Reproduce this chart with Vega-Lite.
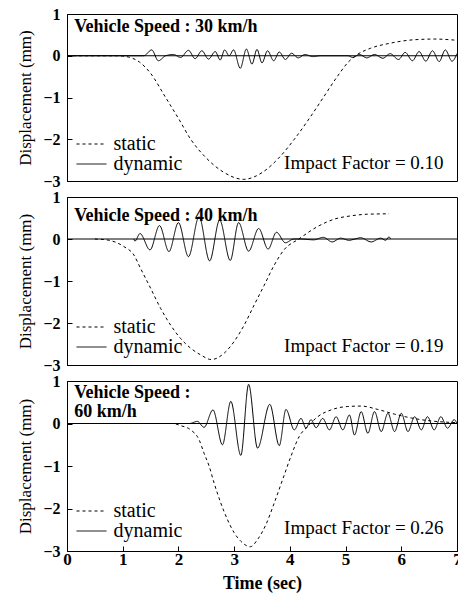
{
  "$schema": "https://vega.github.io/schema/vega-lite/v6.json",
  "padding": {"left": 16, "top": 5, "right": 0, "bottom": 0},
  "bounds": "flush",
  "spacing": 16,
  "background": "white",
  "config": {
    "font": "Liberation Serif, Times New Roman, serif",
    "view": {"stroke": "black", "strokeWidth": 1},
    "axis": {"labelFont": "Liberation Serif, Times New Roman, serif", "labelFontWeight": "bold", "labelFontSize": 16, "labelColor": "black", "domainColor": "black", "tickColor": "black", "grid": false, "titleFont": "Liberation Serif, Times New Roman, serif", "titleColor": "black"},
    "legend": {"orient": "none", "legendX": 14.5, "legendY": 120, "title": null, "symbolType": "M-2,0H2", "symbolSize": 225, "symbolStrokeColor": "black", "symbolStrokeWidth": 1, "labelFont": "Liberation Serif, Times New Roman, serif", "labelFontSize": 20, "labelColor": "black", "labelOffset": 12, "rowPadding": 0, "padding": 0}
  },
  "datasets": {
    "curves": [
      {"speed": 30, "series": "static", "time": 0, "disp": 0},
      {"speed": 30, "series": "static", "time": 0.9, "disp": 0},
      {"speed": 30, "series": "static", "time": 1.1, "disp": -0.03},
      {"speed": 30, "series": "static", "time": 1.3, "disp": -0.15},
      {"speed": 30, "series": "static", "time": 1.5, "disp": -0.42},
      {"speed": 30, "series": "static", "time": 1.77, "disp": -1.0},
      {"speed": 30, "series": "static", "time": 2.0, "disp": -1.5},
      {"speed": 30, "series": "static", "time": 2.22, "disp": -2.0},
      {"speed": 30, "series": "static", "time": 2.5, "disp": -2.45},
      {"speed": 30, "series": "static", "time": 2.8, "disp": -2.78},
      {"speed": 30, "series": "static", "time": 3.17, "disp": -2.96},
      {"speed": 30, "series": "static", "time": 3.5, "disp": -2.8},
      {"speed": 30, "series": "static", "time": 3.8, "disp": -2.45},
      {"speed": 30, "series": "static", "time": 4.08, "disp": -2.0},
      {"speed": 30, "series": "static", "time": 4.35, "disp": -1.5},
      {"speed": 30, "series": "static", "time": 4.6, "disp": -1.0},
      {"speed": 30, "series": "static", "time": 4.85, "disp": -0.5},
      {"speed": 30, "series": "static", "time": 5.05, "disp": -0.15},
      {"speed": 30, "series": "static", "time": 5.2, "disp": 0.02},
      {"speed": 30, "series": "static", "time": 5.45, "disp": 0.18},
      {"speed": 30, "series": "static", "time": 5.8, "disp": 0.3},
      {"speed": 30, "series": "static", "time": 6.2, "disp": 0.38},
      {"speed": 30, "series": "static", "time": 6.6, "disp": 0.4},
      {"speed": 30, "series": "static", "time": 7.0, "disp": 0.37},
      {"speed": 30, "series": "dynamic", "time": 0, "disp": 0},
      {"speed": 30, "series": "dynamic", "time": 1.38, "disp": 0},
      {"speed": 30, "series": "dynamic", "time": 1.52, "disp": 0.14},
      {"speed": 30, "series": "dynamic", "time": 1.64, "disp": -0.12},
      {"speed": 30, "series": "dynamic", "time": 1.77, "disp": 0.0},
      {"speed": 30, "series": "dynamic", "time": 1.91, "disp": 0.03},
      {"speed": 30, "series": "dynamic", "time": 2.04, "disp": -0.04},
      {"speed": 30, "series": "dynamic", "time": 2.18, "disp": 0.13},
      {"speed": 30, "series": "dynamic", "time": 2.3, "disp": -0.07},
      {"speed": 30, "series": "dynamic", "time": 2.42, "disp": 0.12},
      {"speed": 30, "series": "dynamic", "time": 2.54, "disp": -0.08},
      {"speed": 30, "series": "dynamic", "time": 2.66, "disp": 0.1},
      {"speed": 30, "series": "dynamic", "time": 2.75, "disp": -0.1},
      {"speed": 30, "series": "dynamic", "time": 2.83, "disp": 0.14},
      {"speed": 30, "series": "dynamic", "time": 2.91, "disp": 0.0},
      {"speed": 30, "series": "dynamic", "time": 2.99, "disp": 0.14},
      {"speed": 30, "series": "dynamic", "time": 3.11, "disp": -0.3},
      {"speed": 30, "series": "dynamic", "time": 3.22, "disp": 0.16},
      {"speed": 30, "series": "dynamic", "time": 3.32, "disp": -0.2},
      {"speed": 30, "series": "dynamic", "time": 3.41, "disp": 0.15},
      {"speed": 30, "series": "dynamic", "time": 3.5, "disp": -0.17},
      {"speed": 30, "series": "dynamic", "time": 3.6, "disp": 0.12},
      {"speed": 30, "series": "dynamic", "time": 3.71, "disp": -0.12},
      {"speed": 30, "series": "dynamic", "time": 3.81, "disp": 0.09},
      {"speed": 30, "series": "dynamic", "time": 3.92, "disp": -0.09},
      {"speed": 30, "series": "dynamic", "time": 4.03, "disp": 0.06},
      {"speed": 30, "series": "dynamic", "time": 4.15, "disp": -0.05},
      {"speed": 30, "series": "dynamic", "time": 4.27, "disp": 0.03},
      {"speed": 30, "series": "dynamic", "time": 4.41, "disp": -0.02},
      {"speed": 30, "series": "dynamic", "time": 4.56, "disp": 0},
      {"speed": 30, "series": "dynamic", "time": 5.04, "disp": 0},
      {"speed": 30, "series": "dynamic", "time": 5.13, "disp": -0.04},
      {"speed": 30, "series": "dynamic", "time": 5.25, "disp": 0.03},
      {"speed": 30, "series": "dynamic", "time": 5.38, "disp": -0.05},
      {"speed": 30, "series": "dynamic", "time": 5.52, "disp": 0.03},
      {"speed": 30, "series": "dynamic", "time": 5.67, "disp": -0.06},
      {"speed": 30, "series": "dynamic", "time": 5.8, "disp": 0.05},
      {"speed": 30, "series": "dynamic", "time": 5.95, "disp": -0.09},
      {"speed": 30, "series": "dynamic", "time": 6.07, "disp": 0.08},
      {"speed": 30, "series": "dynamic", "time": 6.2, "disp": -0.12},
      {"speed": 30, "series": "dynamic", "time": 6.32, "disp": 0.1},
      {"speed": 30, "series": "dynamic", "time": 6.44, "disp": -0.13},
      {"speed": 30, "series": "dynamic", "time": 6.56, "disp": 0.12},
      {"speed": 30, "series": "dynamic", "time": 6.68, "disp": -0.14},
      {"speed": 30, "series": "dynamic", "time": 6.79, "disp": 0.14},
      {"speed": 30, "series": "dynamic", "time": 6.91, "disp": -0.13},
      {"speed": 30, "series": "dynamic", "time": 7.0, "disp": 0.05},
      {"speed": 40, "series": "static", "time": 0.5, "disp": 0},
      {"speed": 40, "series": "static", "time": 0.75, "disp": -0.03},
      {"speed": 40, "series": "static", "time": 1.02, "disp": -0.18},
      {"speed": 40, "series": "static", "time": 1.2, "disp": -0.38},
      {"speed": 40, "series": "static", "time": 1.32, "disp": -0.7},
      {"speed": 40, "series": "static", "time": 1.5, "disp": -1.17},
      {"speed": 40, "series": "static", "time": 1.68, "disp": -1.65},
      {"speed": 40, "series": "static", "time": 1.86, "disp": -2.05},
      {"speed": 40, "series": "static", "time": 2.04, "disp": -2.37},
      {"speed": 40, "series": "static", "time": 2.22, "disp": -2.6},
      {"speed": 40, "series": "static", "time": 2.4, "disp": -2.76},
      {"speed": 40, "series": "static", "time": 2.59, "disp": -2.87},
      {"speed": 40, "series": "static", "time": 2.82, "disp": -2.72},
      {"speed": 40, "series": "static", "time": 3.0, "disp": -2.44},
      {"speed": 40, "series": "static", "time": 3.18, "disp": -2.05},
      {"speed": 40, "series": "static", "time": 3.36, "disp": -1.57},
      {"speed": 40, "series": "static", "time": 3.54, "disp": -1.1},
      {"speed": 40, "series": "static", "time": 3.72, "disp": -0.62},
      {"speed": 40, "series": "static", "time": 3.9, "disp": -0.25},
      {"speed": 40, "series": "static", "time": 4.16, "disp": 0.0},
      {"speed": 40, "series": "static", "time": 4.49, "disp": 0.29},
      {"speed": 40, "series": "static", "time": 4.79, "disp": 0.47},
      {"speed": 40, "series": "static", "time": 5.09, "disp": 0.55},
      {"speed": 40, "series": "static", "time": 5.39, "disp": 0.59},
      {"speed": 40, "series": "static", "time": 5.78, "disp": 0.6},
      {"speed": 40, "series": "dynamic", "time": 1.2, "disp": 0},
      {"speed": 40, "series": "dynamic", "time": 1.22, "disp": -0.05},
      {"speed": 40, "series": "dynamic", "time": 1.31, "disp": 0.13},
      {"speed": 40, "series": "dynamic", "time": 1.49, "disp": -0.26},
      {"speed": 40, "series": "dynamic", "time": 1.66, "disp": 0.32},
      {"speed": 40, "series": "dynamic", "time": 1.83, "disp": -0.3},
      {"speed": 40, "series": "dynamic", "time": 2.0, "disp": 0.39},
      {"speed": 40, "series": "dynamic", "time": 2.18, "disp": -0.42},
      {"speed": 40, "series": "dynamic", "time": 2.37, "disp": 0.53},
      {"speed": 40, "series": "dynamic", "time": 2.56, "disp": -0.52},
      {"speed": 40, "series": "dynamic", "time": 2.74, "disp": 0.45},
      {"speed": 40, "series": "dynamic", "time": 2.93, "disp": -0.51},
      {"speed": 40, "series": "dynamic", "time": 3.08, "disp": 0.39},
      {"speed": 40, "series": "dynamic", "time": 3.26, "disp": -0.29},
      {"speed": 40, "series": "dynamic", "time": 3.44, "disp": 0.25},
      {"speed": 40, "series": "dynamic", "time": 3.61, "disp": -0.24},
      {"speed": 40, "series": "dynamic", "time": 3.76, "disp": 0.16},
      {"speed": 40, "series": "dynamic", "time": 3.92, "disp": -0.09},
      {"speed": 40, "series": "dynamic", "time": 4.07, "disp": 0.0},
      {"speed": 40, "series": "dynamic", "time": 4.19, "disp": 0.0},
      {"speed": 40, "series": "dynamic", "time": 4.43, "disp": -0.02},
      {"speed": 40, "series": "dynamic", "time": 4.6, "disp": 0.04},
      {"speed": 40, "series": "dynamic", "time": 4.76, "disp": -0.07},
      {"speed": 40, "series": "dynamic", "time": 4.91, "disp": 0.02},
      {"speed": 40, "series": "dynamic", "time": 5.06, "disp": -0.03},
      {"speed": 40, "series": "dynamic", "time": 5.17, "disp": 0.0},
      {"speed": 40, "series": "dynamic", "time": 5.27, "disp": 0.03},
      {"speed": 40, "series": "dynamic", "time": 5.46, "disp": -0.07},
      {"speed": 40, "series": "dynamic", "time": 5.63, "disp": 0.02},
      {"speed": 40, "series": "dynamic", "time": 5.72, "disp": -0.03},
      {"speed": 40, "series": "dynamic", "time": 5.78, "disp": 0.05},
      {"speed": 40, "series": "dynamic", "time": 5.81, "disp": 0},
      {"speed": 60, "series": "static", "time": 1.2, "disp": 0},
      {"speed": 60, "series": "static", "time": 1.9, "disp": 0},
      {"speed": 60, "series": "static", "time": 2.04, "disp": -0.05},
      {"speed": 60, "series": "static", "time": 2.22, "disp": -0.15},
      {"speed": 60, "series": "static", "time": 2.37, "disp": -0.38},
      {"speed": 60, "series": "static", "time": 2.46, "disp": -0.7},
      {"speed": 60, "series": "static", "time": 2.55, "disp": -1.0},
      {"speed": 60, "series": "static", "time": 2.64, "disp": -1.4},
      {"speed": 60, "series": "static", "time": 2.76, "disp": -1.87},
      {"speed": 60, "series": "static", "time": 2.88, "disp": -2.26},
      {"speed": 60, "series": "static", "time": 3.0, "disp": -2.57},
      {"speed": 60, "series": "static", "time": 3.12, "disp": -2.77},
      {"speed": 60, "series": "static", "time": 3.29, "disp": -2.9},
      {"speed": 60, "series": "static", "time": 3.42, "disp": -2.73},
      {"speed": 60, "series": "static", "time": 3.57, "disp": -2.38},
      {"speed": 60, "series": "static", "time": 3.72, "disp": -1.87},
      {"speed": 60, "series": "static", "time": 3.87, "disp": -1.32},
      {"speed": 60, "series": "static", "time": 4.02, "disp": -0.77},
      {"speed": 60, "series": "static", "time": 4.17, "disp": -0.3},
      {"speed": 60, "series": "static", "time": 4.32, "disp": -0.07},
      {"speed": 60, "series": "static", "time": 4.5, "disp": 0.16},
      {"speed": 60, "series": "static", "time": 4.74, "disp": 0.32},
      {"speed": 60, "series": "static", "time": 5.04, "disp": 0.4},
      {"speed": 60, "series": "static", "time": 5.28, "disp": 0.41},
      {"speed": 60, "series": "static", "time": 5.58, "disp": 0.33},
      {"speed": 60, "series": "static", "time": 5.88, "disp": 0.22},
      {"speed": 60, "series": "static", "time": 6.18, "disp": 0.13},
      {"speed": 60, "series": "static", "time": 6.47, "disp": 0.07},
      {"speed": 60, "series": "static", "time": 7.0, "disp": 0.02},
      {"speed": 60, "series": "dynamic", "time": 1.2, "disp": 0},
      {"speed": 60, "series": "dynamic", "time": 2.2, "disp": 0},
      {"speed": 60, "series": "dynamic", "time": 2.34, "disp": 0.05},
      {"speed": 60, "series": "dynamic", "time": 2.46, "disp": -0.09},
      {"speed": 60, "series": "dynamic", "time": 2.62, "disp": 0.32},
      {"speed": 60, "series": "dynamic", "time": 2.79, "disp": -0.5},
      {"speed": 60, "series": "dynamic", "time": 2.94, "disp": 0.52},
      {"speed": 60, "series": "dynamic", "time": 3.12, "disp": -0.75},
      {"speed": 60, "series": "dynamic", "time": 3.26, "disp": 0.92},
      {"speed": 60, "series": "dynamic", "time": 3.42, "disp": -0.58},
      {"speed": 60, "series": "dynamic", "time": 3.64, "disp": 0.45},
      {"speed": 60, "series": "dynamic", "time": 3.81, "disp": -0.52},
      {"speed": 60, "series": "dynamic", "time": 3.93, "disp": 0.33},
      {"speed": 60, "series": "dynamic", "time": 4.08, "disp": -0.15},
      {"speed": 60, "series": "dynamic", "time": 4.2, "disp": 0.12},
      {"speed": 60, "series": "dynamic", "time": 4.29, "disp": -0.11},
      {"speed": 60, "series": "dynamic", "time": 4.38, "disp": 0.09},
      {"speed": 60, "series": "dynamic", "time": 4.47, "disp": -0.1},
      {"speed": 60, "series": "dynamic", "time": 4.59, "disp": 0.12},
      {"speed": 60, "series": "dynamic", "time": 4.71, "disp": -0.15},
      {"speed": 60, "series": "dynamic", "time": 4.83, "disp": 0.16},
      {"speed": 60, "series": "dynamic", "time": 4.95, "disp": -0.15},
      {"speed": 60, "series": "dynamic", "time": 5.07, "disp": 0.2},
      {"speed": 60, "series": "dynamic", "time": 5.16, "disp": -0.27},
      {"speed": 60, "series": "dynamic", "time": 5.28, "disp": 0.28},
      {"speed": 60, "series": "dynamic", "time": 5.4, "disp": -0.23},
      {"speed": 60, "series": "dynamic", "time": 5.52, "disp": 0.28},
      {"speed": 60, "series": "dynamic", "time": 5.64, "disp": -0.19},
      {"speed": 60, "series": "dynamic", "time": 5.76, "disp": 0.24},
      {"speed": 60, "series": "dynamic", "time": 5.88, "disp": -0.19},
      {"speed": 60, "series": "dynamic", "time": 6.0, "disp": 0.24},
      {"speed": 60, "series": "dynamic", "time": 6.12, "disp": -0.19},
      {"speed": 60, "series": "dynamic", "time": 6.24, "disp": 0.16},
      {"speed": 60, "series": "dynamic", "time": 6.36, "disp": -0.15},
      {"speed": 60, "series": "dynamic", "time": 6.47, "disp": 0.16},
      {"speed": 60, "series": "dynamic", "time": 6.59, "disp": -0.15},
      {"speed": 60, "series": "dynamic", "time": 6.71, "disp": 0.16},
      {"speed": 60, "series": "dynamic", "time": 6.83, "disp": -0.11},
      {"speed": 60, "series": "dynamic", "time": 6.95, "disp": 0.09},
      {"speed": 60, "series": "dynamic", "time": 7.0, "disp": 0.0}
    ]
  },
  "vconcat": [
    {
      "width": 390, "height": 167,
      "layer": [
        {
          "data": {"name": "curves"},
          "transform": [{"filter": "datum.speed === 30"}],
          "mark": {"type": "line", "color": "black", "strokeWidth": 1, "interpolate": "monotone"},
          "encoding": {
            "x": {"field": "time", "type": "quantitative", "scale": {"domain": [0, 7], "nice": false}, "axis": null},
            "y": {"field": "disp", "type": "quantitative", "scale": {"domain": [-3, 1], "nice": false}, "axis": {"values": [-3, -2, -1, 0, 1], "format": "d", "title": "Displacement (mm)", "titleFontSize": 17, "titleFontWeight": "normal", "tickSize": -5, "labelPadding": 12, "titlePadding": 8}},
            "strokeDash": {"field": "series", "type": "nominal", "scale": {"domain": ["static", "dynamic"], "range": [[3, 3], [1, 0]]}}
          }
        },
        {
          "data": {"values": [{}]},
          "mark": {"type": "rule", "color": "black", "strokeWidth": 1},
          "encoding": {"y": {"datum": 0, "type": "quantitative"}}
        },
        {
          "data": {"values": [{}]},
          "mark": {"type": "text", "text": "Vehicle Speed : 30 km/h", "font": "Liberation Serif, Times New Roman, serif", "fontWeight": "bold", "fontSize": 18, "align": "left", "baseline": "alphabetic", "color": "black"},
          "encoding": {"x": {"datum": 0.13, "type": "quantitative"}, "y": {"datum": 0.58, "type": "quantitative"}}
        },
        {
          "data": {"values": [{}]},
          "mark": {"type": "text", "text": "Impact Factor = 0.10", "font": "Liberation Serif, Times New Roman, serif", "fontSize": 19, "align": "right", "baseline": "alphabetic", "color": "black"},
          "encoding": {"x": {"datum": 6.76, "type": "quantitative"}, "y": {"datum": -2.71, "type": "quantitative"}}
        }
      ]
    },
    {
      "width": 390, "height": 168,
      "layer": [
        {
          "data": {"name": "curves"},
          "transform": [{"filter": "datum.speed === 40"}],
          "mark": {"type": "line", "color": "black", "strokeWidth": 1, "interpolate": "monotone"},
          "encoding": {
            "x": {"field": "time", "type": "quantitative", "scale": {"domain": [0, 7], "nice": false}, "axis": null},
            "y": {"field": "disp", "type": "quantitative", "scale": {"domain": [-3, 1], "nice": false}, "axis": {"values": [-3, -2, -1, 0, 1], "format": "d", "title": "Displacement (mm)", "titleFontSize": 17, "titleFontWeight": "normal", "tickSize": -5, "labelPadding": 12, "titlePadding": 8}},
            "strokeDash": {"field": "series", "type": "nominal", "scale": {"domain": ["static", "dynamic"], "range": [[3, 3], [1, 0]]}}
          }
        },
        {
          "data": {"values": [{}]},
          "mark": {"type": "rule", "color": "black", "strokeWidth": 1},
          "encoding": {"y": {"datum": 0, "type": "quantitative"}}
        },
        {
          "data": {"values": [{}]},
          "mark": {"type": "text", "text": "Vehicle Speed : 40 km/h", "font": "Liberation Serif, Times New Roman, serif", "fontWeight": "bold", "fontSize": 18, "align": "left", "baseline": "alphabetic", "color": "black"},
          "encoding": {"x": {"datum": 0.13, "type": "quantitative"}, "y": {"datum": 0.43, "type": "quantitative"}}
        },
        {
          "data": {"values": [{}]},
          "mark": {"type": "text", "text": "Impact Factor = 0.19", "font": "Liberation Serif, Times New Roman, serif", "fontSize": 19, "align": "right", "baseline": "alphabetic", "color": "black"},
          "encoding": {"x": {"datum": 6.76, "type": "quantitative"}, "y": {"datum": -2.68, "type": "quantitative"}}
        }
      ]
    },
    {
      "width": 390, "height": 170,
      "layer": [
        {
          "data": {"name": "curves"},
          "transform": [{"filter": "datum.speed === 60"}],
          "mark": {"type": "line", "color": "black", "strokeWidth": 1, "interpolate": "monotone"},
          "encoding": {
            "x": {"field": "time", "type": "quantitative", "scale": {"domain": [0, 7], "nice": false}, "axis": {"values": [0, 1, 2, 3, 4, 5, 6, 7], "format": "d", "title": "Time (sec)", "titleFontSize": 18, "titleFontWeight": "bold", "labelFontSize": 17, "tickSize": -5, "labelPadding": 5, "titlePadding": 7, "labelFlush": false}},
            "y": {"field": "disp", "type": "quantitative", "scale": {"domain": [-3, 1], "nice": false}, "axis": {"values": [-3, -2, -1, 0, 1], "format": "d", "title": "Displacement (mm)", "titleFontSize": 17, "titleFontWeight": "normal", "tickSize": -5, "labelPadding": 12, "titlePadding": 8}},
            "strokeDash": {"field": "series", "type": "nominal", "scale": {"domain": ["static", "dynamic"], "range": [[3, 3], [1, 0]]}}
          }
        },
        {
          "data": {"values": [{}]},
          "mark": {"type": "rule", "color": "black", "strokeWidth": 1},
          "encoding": {"y": {"datum": 0, "type": "quantitative"}}
        },
        {
          "data": {"values": [{}]},
          "mark": {"type": "text", "text": ["Vehicle Speed :", "60 km/h"], "lineHeight": 19, "font": "Liberation Serif, Times New Roman, serif", "fontWeight": "bold", "fontSize": 18, "align": "left", "baseline": "alphabetic", "color": "black"},
          "encoding": {"x": {"datum": 0.13, "type": "quantitative"}, "y": {"datum": 0.59, "type": "quantitative"}}
        },
        {
          "data": {"values": [{}]},
          "mark": {"type": "text", "text": "Impact Factor = 0.26", "font": "Liberation Serif, Times New Roman, serif", "fontSize": 19, "align": "right", "baseline": "alphabetic", "color": "black"},
          "encoding": {"x": {"datum": 6.76, "type": "quantitative"}, "y": {"datum": -2.61, "type": "quantitative"}}
        }
      ]
    }
  ],
  "resolve": {"scale": {"strokeDash": "independent"}, "legend": {"strokeDash": "independent"}}
}
